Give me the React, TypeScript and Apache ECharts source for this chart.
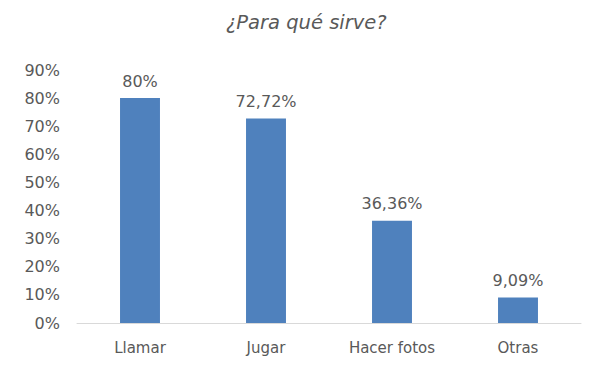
import React, { useEffect, useRef } from "react";
import * as echarts from "echarts";

const categories = ["Llamar", "Jugar", "Hacer fotos", "Otras"];
const values = [80, 72.72, 36.36, 9.09];
const valueLabels = ["80%", "72,72%", "36,36%", "9,09%"];
const titleText = "¿Para qué sirve?";

const FONT = "'DejaVu Sans', sans-serif";
const GRAY = "#595959";

export default function App() {
  const ref = useRef<HTMLDivElement>(null);
  useEffect(() => {
    document.body.style.margin = "0";
    if (!ref.current) return;
    const chart = echarts.init(ref.current, null, { renderer: "svg" });
    chart.setOption({
      animation: false,
      backgroundColor: "#ffffff",
      title: {
        text: titleText,
        left: 221,
        top: 7,
        textStyle: {
          fontFamily: FONT,
          fontStyle: "italic",
          fontWeight: "normal",
          fontSize: 19.5,
          color: GRAY,
        },
      },
      grid: { left: 77, right: 19, top: 70, bottom: 58 },
      xAxis: {
        type: "category",
        data: categories,
        axisLine: { lineStyle: { color: "#d9d9d9", width: 1 } },
        axisTick: { show: false },
        axisLabel: { color: GRAY, fontFamily: FONT, fontSize: 15, margin: 17 },
      },
      yAxis: {
        type: "value",
        min: 0,
        max: 90,
        interval: 10,
        splitLine: { show: false },
        axisLine: { show: false },
        axisTick: { show: false },
        axisLabel: {
          color: GRAY,
          fontFamily: FONT,
          fontSize: 16,
          margin: 17,
          formatter: (v: number) => `${v}%`,
        },
      },
      series: [
        {
          type: "bar",
          data: values,
          barWidth: "31.7%",
          itemStyle: { color: "#4f81bd" },
          label: {
            show: true,
            position: "top",
            distance: 9,
            color: GRAY,
            fontFamily: FONT,
            fontSize: 16,
            formatter: (p: any) => valueLabels[p.dataIndex],
          },
        },
      ],
    });
    return () => chart.dispose();
  }, []);
  return <div ref={ref} style={{ width: 600, height: 381 }} />;
}
